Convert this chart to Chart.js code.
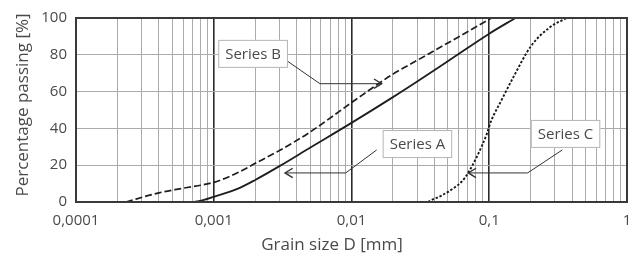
<!DOCTYPE html>
<html>
<head>
<meta charset="utf-8">
<script src="https://cdn.jsdelivr.net/npm/chart.js@4.4.1/dist/chart.umd.min.js"></script>
<style>
  html, body { margin: 0; padding: 0; background: #fff; }
  #wrap { width: 632px; height: 253px; }
</style>
</head>
<body>
<div id="wrap"><canvas id="gradingChart"></canvas></div>
<script>
// Grain size D [mm] and percentage passing [%]
const seriesA_d = [0.00072, 0.00085, 0.001, 0.0015, 0.002, 0.003, 0.005, 0.01, 0.02, 0.03, 0.05, 0.1, 0.155];
const seriesA_p = [0, 1.1, 2.8, 7.3, 12, 19.5, 29.5, 43, 57, 65.5, 76.5, 91.5, 100];

const seriesB_d = [0.00023, 0.0004, 0.0006, 0.001, 0.0015, 0.002, 0.003, 0.005, 0.01, 0.02, 0.03, 0.05, 0.104];
const seriesB_p = [0, 5, 7.5, 10.7, 16, 21, 28, 38, 54, 69.5, 77, 86.4, 100];

const seriesC_d = [0.036, 0.038, 0.045, 0.055, 0.063, 0.0705, 0.083, 0.096, 0.1025, 0.123, 0.15, 0.2, 0.276, 0.365];
const seriesC_p = [0, 1, 3.5, 7.5, 11, 16, 26, 37, 43.5, 55.5, 68, 84.5, 95, 100];

// Axis ticks
const xDecades = [0.0001, 0.001, 0.01, 0.1, 1];
const xLabels = ['0,0001', '0,001', '0,01', '0,1', '1'];
const yTicks = [0, 20, 40, 60, 80, 100];

const textColor = '#4a4a4a';
const fontFamily = '"Open Sans", "Noto Sans", sans-serif';

function decadeIndex(v) {
    return xDecades.findIndex(d => Math.abs(v - d) / d < 1e-6);
}

function toPoints(d, p) {
    return d.map((x, i) => ({ x: x, y: p[i] }));
}

// Labels with leader lines, positioned in data units
const notes = [
    { label: 'Series B', at: [0.00193, 80.5], path: [[0.00342, 76.6], [0.0059, 64.3], [0.01656, 64.3]] },
    { label: 'Series A', at: [0.0301, 31.5], path: [[0.01524, 28.3], [0.00908, 15.8], [0.00329, 15.8]] },
    { label: 'Series C', at: [0.358, 37], path: [[0.339, 28.3], [0.19, 15.8], [0.0705, 15.8]] }
];

const framePlugin = {
    id: 'frame',
    afterDatasetsDraw(chart) {
        const { ctx, chartArea: a } = chart;
        ctx.save();
        ctx.strokeStyle = '#3a3a3a';
        ctx.lineWidth = 2;
        ctx.strokeRect(a.left, a.top, a.right - a.left, a.bottom - a.top);
        ctx.restore();
    }
};

const notesPlugin = {
    id: 'notes',
    afterDatasetsDraw(chart) {
        const { ctx } = chart;
        const xs = chart.scales.x, ys = chart.scales.y;
        ctx.save();
        notes.forEach(n => {
            const pts = n.path.map(p => [xs.getPixelForValue(p[0]), ys.getPixelForValue(p[1])]);
            ctx.strokeStyle = '#333';
            ctx.lineWidth = 1;
            ctx.beginPath();
            pts.forEach((p, i) => i ? ctx.lineTo(p[0], p[1]) : ctx.moveTo(p[0], p[1]));
            ctx.stroke();
            // open arrow head at the end
            const tip = pts[pts.length - 1], prev = pts[pts.length - 2];
            const ang = Math.atan2(tip[1] - prev[1], tip[0] - prev[0]);
            ctx.lineWidth = 1.4;
            ctx.beginPath();
            ctx.moveTo(tip[0] - 9 * Math.cos(ang - 0.55), tip[1] - 9 * Math.sin(ang - 0.55));
            ctx.lineTo(tip[0], tip[1]);
            ctx.lineTo(tip[0] - 9 * Math.cos(ang + 0.55), tip[1] - 9 * Math.sin(ang + 0.55));
            ctx.stroke();

            // box with label
            const cx = xs.getPixelForValue(n.at[0]), cy = ys.getPixelForValue(n.at[1]);
            ctx.font = '15px ' + fontFamily;
            const w = ctx.measureText(n.label).width + 14, h = 28;
            ctx.fillStyle = '#fff';
            ctx.fillRect(cx - w / 2, cy - h / 2, w, h);
            ctx.strokeStyle = '#b5b5b5';
            ctx.lineWidth = 1;
            ctx.strokeRect(cx - w / 2 + 0.5, cy - h / 2 + 0.5, w - 1, h - 1);
            ctx.fillStyle = textColor;
            ctx.textAlign = 'center';
            ctx.textBaseline = 'middle';
            ctx.fillText(n.label, cx, cy + 1);
        });
        ctx.restore();
    }
};

const titlesPlugin = {
    id: 'axisTitles',
    afterDraw(chart) {
        const { ctx, chartArea: a } = chart;
        ctx.save();
        ctx.fillStyle = textColor;
        ctx.font = '17px ' + fontFamily;
        ctx.textAlign = 'center';
        ctx.textBaseline = 'alphabetic';
        ctx.fillText('Grain size D [mm]', a.left + 256, a.bottom + 48);
        ctx.translate(a.left - 48, (a.top + a.bottom) / 2 - 5);
        ctx.rotate(-Math.PI / 2);
        ctx.fillText('Percentage passing [%]', 0, 0);
        ctx.restore();
    }
};

const ctx = document.getElementById('gradingChart').getContext('2d');
new Chart(ctx, {
    type: 'line',
    data: {
        datasets: [
            {
                label: 'Series A',
                data: toPoints(seriesA_d, seriesA_p),
                borderColor: '#1e1e1e',
                borderWidth: 1.8
            },
            {
                label: 'Series B',
                data: toPoints(seriesB_d, seriesB_p),
                borderColor: '#1e1e1e',
                borderWidth: 1.7,
                borderDash: [7, 3]
            },
            {
                label: 'Series C',
                data: toPoints(seriesC_d, seriesC_p),
                borderColor: '#1a1a1a',
                borderWidth: 1.9,
                borderDash: [2.4, 1.8]
            }
        ]
    },
    options: {
        responsive: true,
        maintainAspectRatio: false,
        animation: false,
        elements: {
            point: { radius: 0 },
            line: { cubicInterpolationMode: 'monotone', fill: false }
        },
        layout: { padding: { top: 10, right: 5, left: 0, bottom: 0 } },
        plugins: {
            legend: { display: false },
            tooltip: { enabled: false }
        },
        scales: {
            x: {
                type: 'logarithmic',
                min: xDecades[0],
                max: xDecades[xDecades.length - 1],
                afterBuildTicks(scale) {
                    const t = [];
                    xDecades.forEach((d, i) => {
                        t.push({ value: d });
                        if (i < xDecades.length - 1) {
                            for (let k = 2; k <= 9; k++) t.push({ value: d * k });
                        }
                    });
                    scale.ticks = t;
                },
                afterFit(scale) {
                    scale.height = 51;
                    scale.paddingRight = 0;
                    scale.paddingLeft = 0;
                },
                ticks: {
                    autoSkip: false,
                    maxRotation: 0,
                    padding: 10,
                    color: textColor,
                    font: { family: fontFamily, size: 15 },
                    callback(value) {
                        const i = decadeIndex(value);
                        return i >= 0 ? xLabels[i] : '';
                    }
                },
                grid: {
                    drawTicks: false,
                    color: c => decadeIndex(c.tick.value) >= 0 ? '#2a2a2a' : '#ababab',
                    lineWidth: c => decadeIndex(c.tick.value) >= 0 ? 1.6 : 1
                },
                border: { color: '#3a3a3a', width: 2 }
            },
            y: {
                min: 0,
                max: 100,
                afterBuildTicks(scale) {
                    scale.ticks = yTicks.map(v => ({ value: v }));
                },
                afterFit(scale) { scale.width = 76; },
                ticks: {
                    padding: 9,
                    color: textColor,
                    font: { family: fontFamily, size: 15 }
                },
                grid: {
                    drawTicks: false,
                    color: '#ababab',
                    lineWidth: 1
                },
                border: { color: '#3a3a3a', width: 2 }
            }
        }
    },
    plugins: [framePlugin, notesPlugin, titlesPlugin]
});
</script>
</body>
</html>
